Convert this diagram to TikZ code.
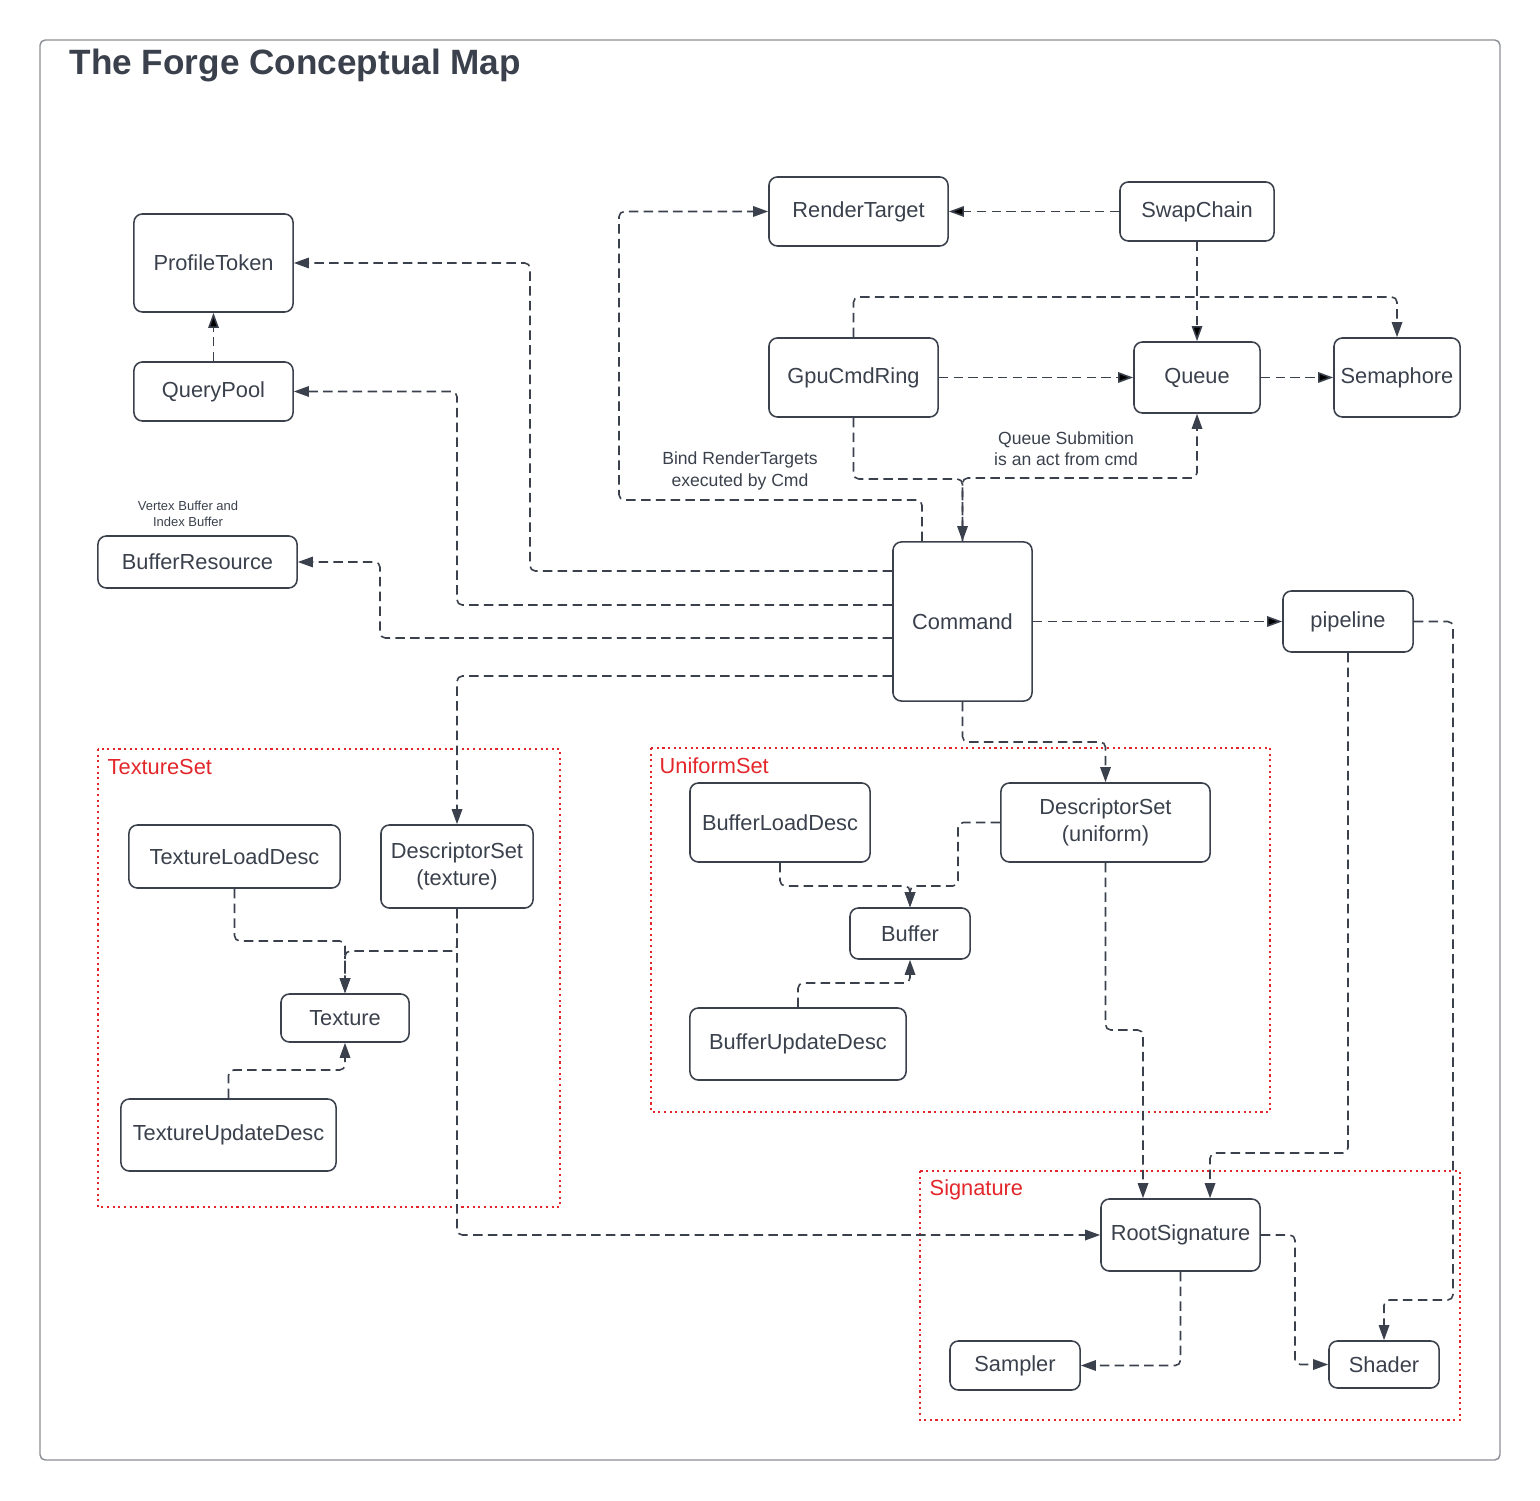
\documentclass[tikz,border=0pt]{standalone}
\usepackage{fontspec}
\setmainfont{Liberation Sans}
\usepackage{tikz}
\usetikzlibrary{arrows.meta}

\definecolor{inkgray}{HTML}{3A414C}
\definecolor{framegray}{HTML}{8A8D93}
\definecolor{groupred}{HTML}{E3262A}

\tikzset{
	concept/.style={shape=rectangle, draw=inkgray, line width=0.45pt, rounded corners=2.4pt, align=center, text=inkgray, font=\fontsize{6.2}{7.6}\selectfont, inner sep=0pt},
	link/.style={draw=inkgray, line width=0.45pt, dash pattern=on 2.7pt off 1.5pt, rounded corners=1.5pt, -{Triangle[length=4.3pt,width=3pt]}},
	group/.style={draw=groupred, line width=0.5pt, dash pattern=on 0.6pt off 1pt},
	grouplabel/.style={anchor=west, text=groupred, font=\fontsize{6.2}{7.6}\selectfont, inner sep=0pt},
	note/.style={align=center, text=inkgray, font=\fontsize{5}{6}\selectfont, inner sep=0pt},
}

\begin{document}
\begin{tikzpicture}[x=0.01cm, y=-0.01cm]

	\useasboundingbox (0, 0) rectangle (1540, 1501);
	\draw[framegray, line width=0.4pt, rounded corners=1.5pt] (40, 40) rectangle (1500, 1460);
	\node[anchor=west, text=inkgray, font=\fontsize{10}{12}\selectfont\bfseries, inner sep=0pt] (title) at (69, 65) {The Forge Conceptual Map};

	% groups
	\draw[group] (98, 749) rectangle (560, 1207);
	\draw[group] (651, 748) rectangle (1270, 1112);
	\draw[group] (920, 1171) rectangle (1460, 1420);
	\node[grouplabel] (texset) at (107, 767) {TextureSet};
	\node[grouplabel] (uniset) at (659, 766) {UniformSet};
	\node[grouplabel] (sigset) at (929, 1190) {Signature};

	\node[concept, minimum width=1.59cm, minimum height=0.98cm] (ProfileToken) at (213.5, 263) {ProfileToken};
	\node[concept, minimum width=1.59cm, minimum height=0.59cm] (QueryPool) at (213.5, 391.5) {QueryPool};
	\node[concept, minimum width=1.99cm, minimum height=0.52cm] (BufferResource) at (197.5, 562) {BufferResource};
	\node[concept, minimum width=1.79cm, minimum height=0.69cm] (RenderTarget) at (858.5, 211.5) {RenderTarget};
	\node[concept, minimum width=1.54cm, minimum height=0.59cm] (SwapChain) at (1197, 211.5) {SwapChain};
	\node[concept, minimum width=1.69cm, minimum height=0.79cm] (GpuCmdRing) at (853.5, 377.5) {GpuCmdRing};
	\node[concept, minimum width=1.26cm, minimum height=0.71cm] (Queue) at (1197, 377.5) {Queue};
	\node[concept, minimum width=1.26cm, minimum height=0.79cm] (Semaphore) at (1397, 377.5) {Semaphore};
	\node[concept, minimum width=1.39cm, minimum height=1.59cm] (Command) at (962.5, 621.5) {Command};
	\node[concept, minimum width=1.30cm, minimum height=0.61cm] (pipeline) at (1348, 621.5) {pipeline};

	\node[concept, minimum width=2.11cm, minimum height=0.63cm] (TextureLoadDesc) at (234.5, 856.5) {TextureLoadDesc};
	\node[concept, minimum width=1.52cm, minimum height=0.83cm] (DescSetTexture) at (457, 866.5) {DescriptorSet\\(texture)};
	\node[concept, minimum width=1.28cm, minimum height=0.48cm] (Texture) at (345, 1018) {Texture};
	\node[concept, minimum width=2.15cm, minimum height=0.72cm] (TextureUpdateDesc) at (228.5, 1135) {TextureUpdateDesc};

	\node[concept, minimum width=1.80cm, minimum height=0.79cm] (BufferLoadDesc) at (780, 822.5) {BufferLoadDesc};
	\node[concept, minimum width=2.09cm, minimum height=0.79cm] (DescSetUniform) at (1105.5, 822.5) {DescriptorSet\\(uniform)};
	\node[concept, minimum width=1.20cm, minimum height=0.51cm] (Buffer) at (910, 933.5) {Buffer};
	\node[concept, minimum width=2.16cm, minimum height=0.72cm] (BufferUpdateDesc) at (798, 1044) {BufferUpdateDesc};

	\node[concept, minimum width=1.59cm, minimum height=0.72cm] (RootSignature) at (1180.5, 1235) {RootSignature};
	\node[concept, minimum width=1.30cm, minimum height=0.49cm] (Sampler) at (1015, 1365.5) {Sampler};
	\node[concept, minimum width=1.10cm, minimum height=0.47cm] (Shader) at (1384, 1364.5) {Shader};

	% notes
	\node[note] (qnote) at (1066, 449) {Queue Submition\\is an act from cmd};
	\node[note] (bnote) at (740, 471) {Bind RenderTargets\\executed by Cmd};
	\node[note, font=\fontsize{3.7}{4.55}\selectfont] (vnote) at (188, 514) {Vertex Buffer and\\Index Buffer};

	% top part
	\path[link] (SwapChain) edge (RenderTarget);
	\path[link] (SwapChain) edge (Queue);
	\path[link] (GpuCmdRing) edge (Queue);
	\path[link] (Queue) edge (Semaphore);
	\path[link] (QueryPool) edge (ProfileToken);
	\path[link] (Command) edge (pipeline);
	\draw[link] (GpuCmdRing.north) -- (853.5, 297) -| (Semaphore.north);
	\draw[link] (GpuCmdRing.south) -- (853.5, 479) -| (Command.north);
	\draw[link] (Command.north) -- (962.5, 478) -| (Queue.south);
	\draw[link] ([xshift=-4.05mm]Command.north) |- (619, 500) |- (RenderTarget.west);

	% command to the left
	\draw[link] ([yshift=5.05mm]Command.west) -- (530, 571) |- (ProfileToken.east);
	\draw[link] ([yshift=1.65mm]Command.west) -- (457, 605) |- (QueryPool.east);
	\draw[link] ([yshift=-1.65mm]Command.west) -- (380, 638) |- (BufferResource.east);
	\draw[link] ([yshift=-5.45mm]Command.west) -| (DescSetTexture.north);

	% texture set
	\draw[link] (TextureLoadDesc.south) |- (345, 941) -- (Texture.north);
	\draw[link] (DescSetTexture.south) |- (345, 951) -- (Texture.north);
	\draw[link] (TextureUpdateDesc.north) |- (345, 1070) -- (Texture.south);
	\draw[link] (DescSetTexture.south) |- (RootSignature.west);

	% uniform set
	\draw[link] (Command.south) -- (962.5, 742) -| (DescSetUniform.north);
	\draw[link] (DescSetUniform.west) -| (958, 886) -| (Buffer.north);
	\draw[link] (BufferLoadDesc.south) |- (910, 886) -- (Buffer.north);
	\draw[link] (BufferUpdateDesc.north) |- (910, 983) -- (Buffer.south);
	\draw[link] (DescSetUniform.south) |- (1143, 1030) -- ([xshift=-3.75mm]RootSignature.north);

	% signature
	\draw[link] (pipeline.south) |- (1210, 1153) -- ([xshift=2.95mm]RootSignature.north);
	\draw[link] (pipeline.east) -| (1453, 1300) -| (Shader.north);
	\draw[link] (RootSignature.south) |- (Sampler.east);
	\draw[link] (RootSignature.east) -| (1295, 1364.5) -- (Shader.west);

\end{tikzpicture}
\end{document}
